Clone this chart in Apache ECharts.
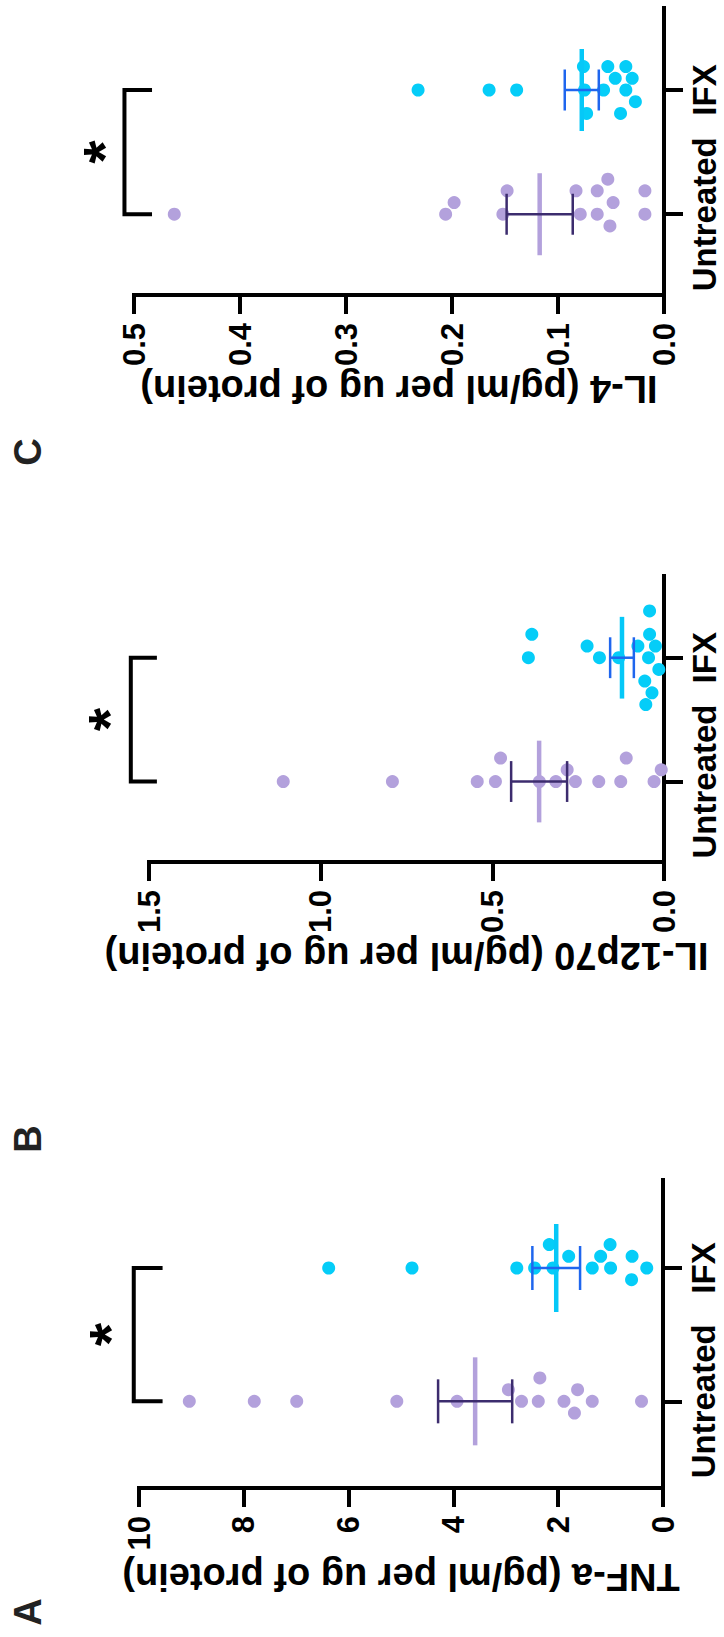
<!DOCTYPE html>
<html><head><meta charset="utf-8">
<script src="https://cdn.jsdelivr.net/npm/echarts@6/dist/echarts.min.js"></script>
<style>html,body{margin:0;padding:0;background:#fff;}#c{width:724px;height:1637px;}</style>
</head><body><div id="c"></div>
<script>
// ---------------- data ----------------
const categories = ['Untreated', 'IFX'];
const panelLetters = ['A', 'B', 'C'];
const axisTitles = ['TNF-a (pg/ml per ug of protein)', 'IL-12p70 (pg/ml per ug of protein)', 'IL-4 (pg/ml per ug of protein)'];
const tickLabelsA = ['0', '2', '4', '6', '8', '10'];
const tickLabelsB = ['0.0', '0.5', '1.0', '1.5'];
const tickLabelsC = ['0.0', '0.1', '0.2', '0.3', '0.4', '0.5'];
const axisMax = [10, 1.5, 0.5];
const axisStep = [2, 0.5, 0.1];

const tnfUntreated = [9.04, 7.80, 6.99, 5.08, 3.93, 2.70, 1.89, 1.35, 0.41, 2.38, 2.35, 1.63, 2.95, 1.69];
const tnfIFX = [6.38, 4.79, 2.79, 2.45, 2.10, 1.80, 1.00, 0.31, 1.35, 1.01, 0.59, 0.60, 2.17, 1.19];
const il12Untreated = [1.109, 0.791, 0.544, 0.363, 0.190, 0.491, 0.315, 0.258, 0.126, 0.029, 0.476, 0.282, 0.110, 0.008];
const il12IFX = [0.395, 0.385, 0.188, 0.224, 0.132, 0.045, 0.025, 0.042, 0.056, 0.015, 0.042, 0.053, 0.076, 0.035];
const il4Untreated = [0.462, 0.206, 0.198, 0.152, 0.148, 0.079, 0.083, 0.063, 0.048, 0.063, 0.051, 0.053, 0.018, 0.018];
const il4IFX = [0.232, 0.165, 0.139, 0.075, 0.076, 0.073, 0.057, 0.036, 0.046, 0.030, 0.036, 0.053, 0.041, 0.027];

// significance annotation (data units): bracket level, arm end, star level
const sigLabels = ['*', '*', '*'];
const bracketLevel = [10.1, 1.553, 0.509];
const bracketArm = [9.55, 1.477, 0.483];
const starLevel = [10.55, 1.614, 0.528];

// ---------------- layout / style ----------------
const panels = [
  { values: [tnfUntreated, tnfIFX], ticks: tickLabelsA, grid: { left: 139, right: 61, top: 1180, height: 308 }, letter: [28, 1612] },
  { values: [il12Untreated, il12IFX], ticks: tickLabelsB, grid: { left: 149, right: 60, top: 576, height: 286 }, letter: [28, 1139] },
  { values: [il4Untreated, il4IFX], ticks: tickLabelsC, grid: { left: 134, right: 60, top: 8, height: 287 }, letter: [28, 452] }
];
const W = 724;
const YMIN = -0.65, YMAX = 1.66;
const dotColors = ['#B3A1DC', '#05CDF8'];
const meanColors = ['#B3A1DC', '#05C8F8'];
const semColors = ['#3C2C6E', '#1F66EE'];
const FONT = '"Liberation Sans", Arial, sans-serif';
const DOT = 13;

function meanSem(a) {
  const n = a.length, m = a.reduce((s, v) => s + v, 0) / n;
  const sd = Math.sqrt(a.reduce((s, v) => s + (v - m) * (v - m), 0) / (n - 1));
  return [m, sd / Math.sqrt(n)];
}

// beeswarm offsets (pixels, positive = towards the next category)
function swarm(vals, pxPerVal) {
  const STEP = 11.7, TX = 16, D = 13;
  const placed = [], out = [];
  vals.forEach(v => {
    const x = v * pxPerVal;
    for (let k = 0; k < 60; k++) {
      const row = k === 0 ? 0 : (k % 2 ? (k + 1) / 2 : -k / 2);
      const y = row * STEP;
      const hit = placed.some(p => (p.row === row && Math.abs(p.x - x) < TX) || Math.hypot(p.x - x, p.y - y) < D);
      if (!hit) { placed.push({ x, y, row }); out.push(y); break; }
    }
  });
  return out;
}

const grids = [], xAxes = [], yAxes = [], series = [], graphics = [];
const black = '#000';
panels.forEach((p, i) => {
  grids.push(p.grid);
  const gw = W - p.grid.left - p.grid.right;
  const pxPerVal = gw / axisMax[i];
  const pxPerCat = p.grid.height / (YMAX - YMIN);
  xAxes.push({
    gridIndex: i, type: 'value', min: 0, max: axisMax[i], interval: axisStep[i], inverse: true,
    position: 'bottom',
    axisLine: { show: true, onZero: false, lineStyle: { color: black, width: 4, cap: 'square' } },
    axisTick: { show: true, length: 19, lineStyle: { color: black, width: 4 } },
    splitLine: { show: false },
    axisLabel: {
      rotate: 90, margin: 28, color: black, fontSize: 31, fontWeight: 'bold', fontFamily: FONT,
      formatter: (v) => p.ticks[Math.round(v / axisStep[i])]
    },
    name: axisTitles[i], nameLocation: 'middle', nameRotate: 180, nameGap: 70,
    nameTextStyle: { color: black, fontSize: 38, fontWeight: 'bold', fontFamily: FONT }
  });
  yAxes.push({
    gridIndex: i, type: 'value', min: YMIN, max: YMAX, position: 'right',
    axisLine: { show: true, onZero: false, lineStyle: { color: black, width: 4, cap: 'square' } },
    axisTick: { show: true, length: 19, customValues: [0, 1], lineStyle: { color: black, width: 4 } },
    splitLine: { show: false },
    axisLabel: {
      customValues: [0, 1], rotate: 90, margin: 25, lineHeight: 30, color: black, fontSize: 33, fontWeight: 'bold', fontFamily: FONT,
      formatter: (v) => categories[Math.round(v)] || ''
    }
  });
  const stats = [];
  p.values.forEach((vals, c) => {
    const off = swarm(vals, pxPerVal);
    series.push({
      type: 'scatter', name: categories[c], xAxisIndex: i, yAxisIndex: i, symbolSize: DOT, z: 2,
      itemStyle: { color: dotColors[c], opacity: 1 },
      data: vals.map((v, k) => [v, c + off[k] / pxPerCat])
    });
    const ms = meanSem(vals);
    stats.push([c, ms[0], ms[1]]);
  });
  // mean and SEM
  series.push({
    type: 'custom', xAxisIndex: i, yAxisIndex: i, z: 3, data: stats, clip: false, silent: true,
    renderItem: (params, api) => {
      const c = api.value(0), m = api.value(1), s = api.value(2);
      const ctr = api.coord([m, c]);
      const lo = api.coord([m - s, c]);
      const hi = api.coord([m + s, c]);
      const unit = api.size([0, 1])[1];
      const h1 = unit * 0.33, h2 = unit * 0.165;
      return {
        type: 'group', children: [
          { type: 'line', shape: { x1: ctr[0], y1: ctr[1] - h1, x2: ctr[0], y2: ctr[1] + h1 }, style: { stroke: meanColors[c], lineWidth: 4.5 } },
          { type: 'line', shape: { x1: lo[0], y1: ctr[1], x2: hi[0], y2: ctr[1] }, style: { stroke: semColors[c], lineWidth: 2.5 } },
          { type: 'line', shape: { x1: lo[0], y1: ctr[1] - h2, x2: lo[0], y2: ctr[1] + h2 }, style: { stroke: semColors[c], lineWidth: 2.5 } },
          { type: 'line', shape: { x1: hi[0], y1: ctr[1] - h2, x2: hi[0], y2: ctr[1] + h2 }, style: { stroke: semColors[c], lineWidth: 2.5 } }
        ]
      };
    }
  });
  // significance bracket and star
  series.push({
    type: 'custom', xAxisIndex: i, yAxisIndex: i, z: 4, clip: false, silent: true,
    data: [[bracketLevel[i], bracketArm[i], starLevel[i]]],
    renderItem: (params, api) => {
      const lv = api.value(0), arm = api.value(1), st = api.value(2);
      const a0 = api.coord([arm, 0]), l0 = api.coord([lv, 0]), l1 = api.coord([lv, 1]), a1 = api.coord([arm, 1]);
      const sp = api.coord([st, 0.5]);
      return {
        type: 'group', children: [
          { type: 'polyline', shape: { points: [a0, l0, l1, a1] }, style: { stroke: black, lineWidth: 4, fill: null, lineJoin: 'miter' } },
          { type: 'text', x: sp[0], y: sp[1], rotation: Math.PI / 2,
            style: { text: sigLabels[i], fill: black, font: 'bold 60px ' + FONT, align: 'center', verticalAlign: 'middle' } }
        ]
      };
    }
  });
  graphics.push({
    type: 'text', x: p.letter[0], y: p.letter[1], rotation: Math.PI / 2,
    style: { text: panelLetters[i], fill: '#222', font: 'bold 38px ' + FONT,
      align: 'center', verticalAlign: 'middle', textAlign: 'center', textVerticalAlign: 'middle' }
  });
});

const chart = echarts.init(document.getElementById('c'), null, { renderer: 'svg', width: 724, height: 1637 });
chart.setOption({
  animation: false,
  backgroundColor: '#fff',
  grid: grids, xAxis: xAxes, yAxis: yAxes, series: series, graphic: graphics
});
</script>
</body></html>
